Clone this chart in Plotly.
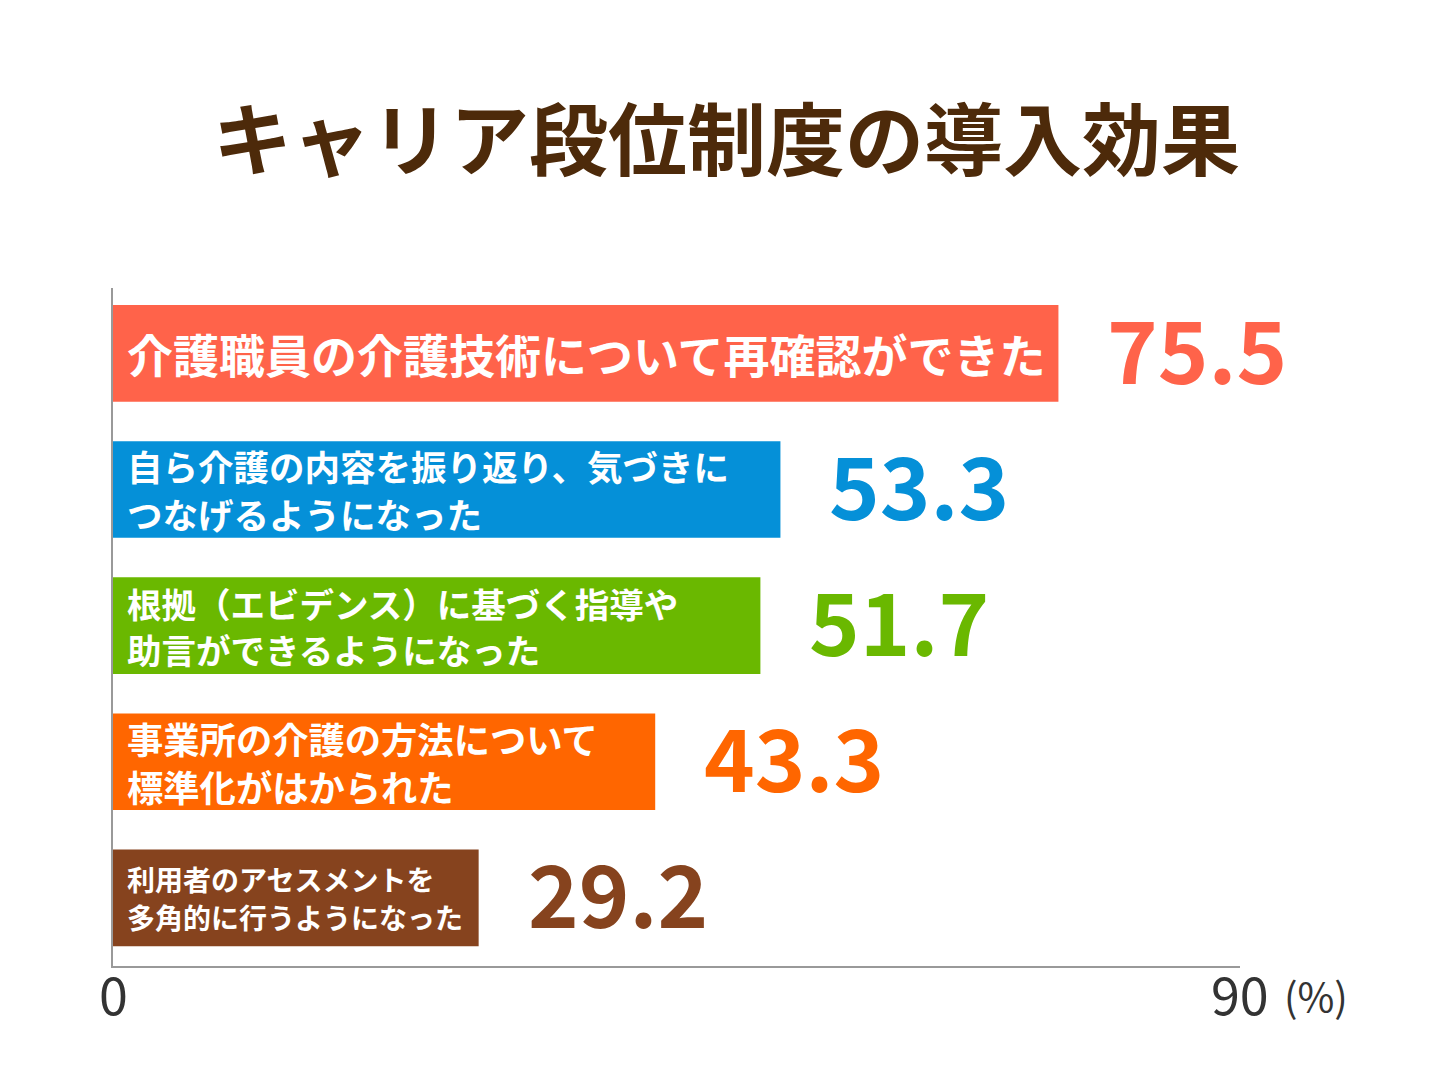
import plotly.graph_objects as go

# データ
categories = [
    "介護職員の介護技術について再確認ができた",
    "自ら介護の内容を振り返り、気づきに<br>つなげるようになった",
    "根拠（エビデンス）に基づく指導や<br>助言ができるようになった",
    "事業所の介護の方法について<br>標準化がはかられた",
    "利用者のアセスメントを<br>多角的に行うようになった",
]
values = [75.5, 53.3, 51.7, 43.3, 29.2]
colors = ["#FF634A", "#0590D8", "#6AB800", "#FF6600", "#86431E"]
label_sizes = [46, 35.5, 34.5, 36.3, 28]
x_ticks = [0, 90]
x_ticklabels = ["0", "90"]

FONT = "Noto Sans CJK JP"

W, H = 1452, 1089
ML, MR, MT, MB = 105, 220, 280, 131
plot_w = W - ML - MR
plot_h = H - MT - MB

y_pos = list(range(len(categories)))[::-1]

fig = go.Figure()
fig.add_trace(go.Bar(
    x=values,
    y=y_pos,
    orientation="h",
    marker=dict(color=colors, line=dict(width=0)),
    hoverinfo="skip",
    width=0.71,
))

annotations = []
for yp, cat, val, col, fs in zip(y_pos, categories, values, colors, label_sizes):
    # バー内のラベル（行ごとに配置）
    lines = cat.split("<br>")
    step = fs * 1.3 + 1
    n = len(lines)
    for i, line in enumerate(lines):
        annotations.append(dict(
            x=0, y=yp, xref="x", yref="y",
            text="<b>" + line + "</b>",
            xanchor="left", yanchor="middle", align="left",
            xshift=13, yshift=((n - 1) / 2 - i) * step,
            showarrow=False, borderpad=0,
            font=dict(family=FONT, size=fs, color="white"),
        ))
    # 値ラベル
    annotations.append(dict(
        x=val, y=yp, xref="x", yref="y",
        text="<b>" + f"{val:.1f}" + "</b>",
        xanchor="left", yanchor="middle",
        xshift=47, yshift=7, showarrow=False,
        font=dict(family=FONT, size=86, color=col),
    ))

# 目盛りラベル
for tv, tl in zip(x_ticks, x_ticklabels):
    annotations.append(dict(
        x=tv, y=0, xref="x", yref="paper",
        text=tl, xanchor="center", yanchor="middle",
        yshift=-26, showarrow=False,
        font=dict(family=FONT, size=52, color="#333333"),
    ))

# 単位
annotations.append(dict(
    x=90, y=0, xref="x", yref="paper",
    text="(%)", xanchor="left", yanchor="top",
    xshift=42, yshift=2, showarrow=False,
    font=dict(family=FONT, size=40, color="#333333"),
))

# タイトル
annotations.append(dict(
    x=(718 - ML) / plot_w, y=(H - MB - 128) / plot_h,
    xref="paper", yref="paper",
    xanchor="center", yanchor="middle",
    text="<b>キャリア段位制度の導入効果</b>",
    showarrow=False,
    font=dict(family=FONT, size=79, color="#4D2A0A"),
))

fig.update_layout(
    width=W, height=H,
    margin=dict(l=ML, r=MR, t=MT, b=MB),
    paper_bgcolor="white", plot_bgcolor="white",
    showlegend=False,
    bargap=0.29,
    annotations=annotations,
    xaxis=dict(
        range=[0, 90], tickvals=x_ticks, showticklabels=False,
        showgrid=False, zeroline=False,
        showline=True, linecolor="#999999", linewidth=2,
        ticks="", fixedrange=True,
    ),
    yaxis=dict(
        range=[-0.5, 4.48], showticklabels=False,
        showgrid=False, zeroline=False,
        showline=True, linecolor="#999999", linewidth=2,
        fixedrange=True,
    ),
)

fig.write_html("out.html")
